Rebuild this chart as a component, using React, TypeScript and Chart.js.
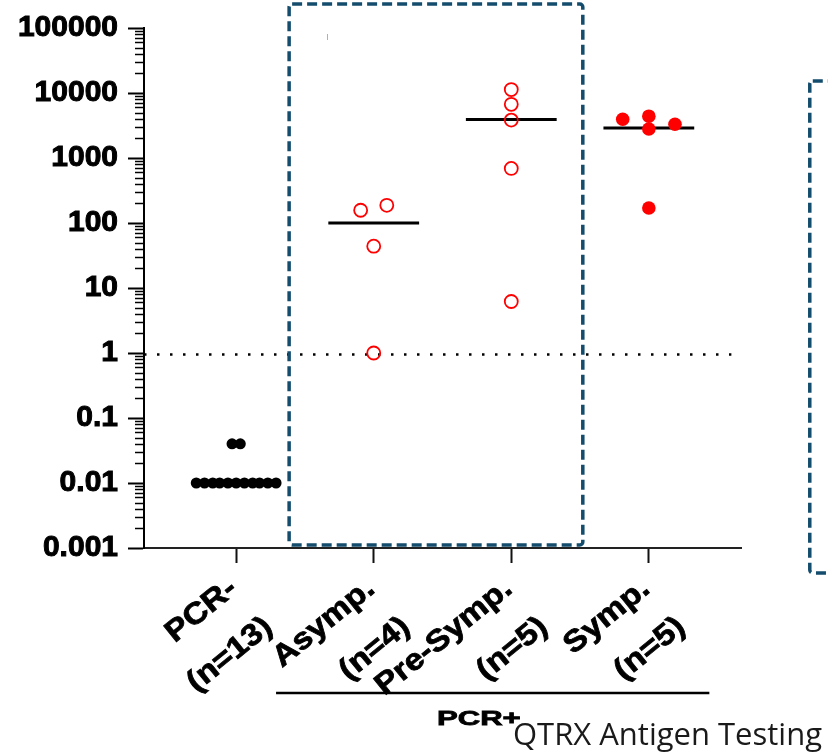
import React, { useEffect, useRef } from 'react';
import { Chart, registerables } from 'chart.js';

Chart.register(...registerables);

// ---- data ----
const categoryLabels: string[][] = [
  ['PCR-', '(n=13)'],
  ['Asymp.', '(n=4)'],
  ['Pre-Symp.', '(n=5)'],
  ['Symp.', '(n=5)'],
];
const categoryPositions = [1, 2, 3, 4];

const yTickValues = [0.001, 0.01, 0.1, 1, 10, 100, 1000, 10000, 100000];
const yTickLabels = ['0.001', '0.01', '0.1', '1', '10', '100', '1000', '10000', '100000'];

const pcrNegValues = [0.01, 0.01, 0.01, 0.01, 0.01, 0.01, 0.01, 0.01, 0.01, 0.01, 0.01, 0.04, 0.04];
const pcrNegJitter = [-0.29, -0.23, -0.17, -0.12, -0.06, 0, 0.06, 0.12, 0.17, 0.23, 0.29, -0.03, 0.03];

const asympValues = [157, 187, 44, 1.0];
const asympJitter = [-0.095, 0.095, 0, 0];

const preSympValues = [11300, 6700, 3830, 690, 6.2];
const preSympJitter = [0, 0, 0, 0, 0];

const sympValues = [3950, 4400, 2800, 3300, 170];
const sympJitter = [-0.19, 0, 0, 0.19, 0];

const medianValues = [100, 3900, 2900];
const medianPositions = [2, 3, 4];
const medianHalfWidth = 0.33;

const thresholdValue = 0.95;
const thresholdRange = [0.33, 4.6];

const groupLabel = 'PCR+';
const titleText = 'QTRX Antigen Testing';

const BOX_COLOR = '#134c6c';
const RED = '#ff0000';
const BOLD_FONT = '"Liberation Sans", Arial, sans-serif';

function pts(center: number, values: number[], jitter: number[]) {
  return values.map((v, i) => ({ x: center + jitter[i], y: v }));
}

const decorations = {
  id: 'decorations',
  afterDraw(chart: any) {
    const ctx = chart.ctx as CanvasRenderingContext2D;
    const xs = chart.scales.x;
    const ys = chart.scales.y;
    const area = chart.chartArea;
    ctx.save();

    // minor ticks on log axis
    ctx.strokeStyle = '#000';
    ctx.lineWidth = 1.5;
    for (let e = -3; e < 5; e++) {
      for (let k = 2; k <= 9; k++) {
        const y = Math.round(ys.getPixelForValue(k * Math.pow(10, e))) + 0.5;
        ctx.beginPath();
        ctx.moveTo(area.left - 9, y);
        ctx.lineTo(area.left, y);
        ctx.stroke();
      }
    }

    // category labels (rotated, two lines)
    ctx.fillStyle = '#000';
    ctx.strokeStyle = '#000';
    ctx.lineWidth = 0.8;
    ctx.font = `bold 30px ${BOLD_FONT}`;
    ctx.textAlign = 'right';
    ctx.textBaseline = 'alphabetic';
    const ang = (-39 * Math.PI) / 180;
    categoryPositions.forEach((p, i) => {
      const px = xs.getPixelForValue(p);
      const [l1, l2] = categoryLabels[i];
      ctx.save();
      ctx.setTransform(
        Math.cos(ang) * 1.12,
        Math.sin(ang) * 1.12,
        -Math.sin(ang),
        Math.cos(ang),
        px + 2.5,
        area.bottom + 43.5
      );
      ctx.fillText(l1, 0, 0);
      ctx.strokeText(l1, 0, 0);
      ctx.fillText(l2, 3, 52);
      ctx.strokeText(l2, 3, 52);
      ctx.restore();
    });

    // dashed boxes
    ctx.strokeStyle = BOX_COLOR;
    ctx.lineWidth = 3.5;
    ctx.setLineDash([10, 5]);
    const b1l = xs.getPixelForValue(1.385);
    const b1r = xs.getPixelForValue(3.52);
    ctx.beginPath();
    (ctx as any).roundRect(b1l, 4, b1r - b1l, area.bottom - 3 - 4, 3);
    ctx.stroke();
    const b2l = xs.getPixelForValue(5.17);
    ctx.beginPath();
    (ctx as any).roundRect(b2l, 81, 80, 573 - 81, 3);
    ctx.stroke();
    ctx.setLineDash([]);

    // tiny grey mark
    ctx.strokeStyle = '#b0b0b0';
    ctx.lineWidth = 1;
    ctx.beginPath();
    ctx.moveTo(327.5, 34);
    ctx.lineTo(327.5, 40);
    ctx.stroke();

    // bracket under PCR+ groups
    ctx.strokeStyle = '#000';
    ctx.lineWidth = 2.5;
    ctx.beginPath();
    ctx.moveTo(xs.getPixelForValue(1.29), 693);
    ctx.lineTo(xs.getPixelForValue(4.44), 693);
    ctx.stroke();

    // PCR+ label
    ctx.fillStyle = '#000';
    ctx.strokeStyle = '#000';
    ctx.lineWidth = 0.8;
    ctx.font = `bold 21px ${BOLD_FONT}`;
    ctx.textAlign = 'left';
    ctx.textBaseline = 'alphabetic';
    ctx.save();
    ctx.translate(437, 725);
    ctx.scale(1.48, 1);
    ctx.fillText(groupLabel, 0, 0);
    ctx.strokeText(groupLabel, 0, 0);
    ctx.restore();

    // title text
    ctx.fillStyle = '#1a1a1a';
    ctx.font = '31px "Open Sans", sans-serif';
    ctx.textAlign = 'right';
    ctx.fillText(titleText, 822, 745);

    ctx.restore();
  },
};

export default function App() {
  const ref = useRef<HTMLCanvasElement | null>(null);

  useEffect(() => {
    if (!ref.current) return;
    const medianDatasets = medianValues.map((m, i) => ({
      type: 'line' as const,
      data: [
        { x: medianPositions[i] - medianHalfWidth, y: m },
        { x: medianPositions[i] + medianHalfWidth, y: m },
      ],
      borderColor: '#000',
      borderWidth: 3,
      pointRadius: 0,
      showLine: true,
      order: 2,
    }));

    const chart = new Chart(ref.current, {
      type: 'scatter',
      data: {
        datasets: [
          {
            data: pts(categoryPositions[0], pcrNegValues, pcrNegJitter),
            backgroundColor: '#000',
            borderColor: '#000',
            pointRadius: 5.5,
            borderWidth: 0,
            order: 0,
          },
          {
            data: pts(categoryPositions[1], asympValues, asympJitter),
            backgroundColor: 'rgba(0,0,0,0)',
            borderColor: RED,
            pointRadius: 6.5,
            borderWidth: 1.8,
            order: 0,
          },
          {
            data: pts(categoryPositions[2], preSympValues, preSympJitter),
            backgroundColor: 'rgba(0,0,0,0)',
            borderColor: RED,
            pointRadius: 6.5,
            borderWidth: 1.8,
            order: 0,
          },
          {
            data: pts(categoryPositions[3], sympValues, sympJitter),
            backgroundColor: RED,
            borderColor: RED,
            pointRadius: 6.8,
            borderWidth: 0,
            order: 0,
          },
          ...medianDatasets,
          {
            type: 'line' as const,
            data: [
              { x: thresholdRange[0], y: thresholdValue },
              { x: thresholdRange[1], y: thresholdValue },
            ],
            borderColor: '#000',
            borderWidth: 2.5,
            borderDash: [2.5, 10.5],
            pointRadius: 0,
            showLine: true,
            order: 3,
          },
        ] as any,
      },
      options: {
        animation: false,
        responsive: false,
        layout: { padding: { top: 23, right: 87, bottom: 0, left: 0 } },
        plugins: {
          legend: { display: false },
          tooltip: { enabled: false },
          title: { display: false },
        },
        scales: {
          x: {
            type: 'linear',
            min: 0.33,
            max: 4.67,
            afterBuildTicks: (scale: any) => {
              scale.ticks = categoryPositions.map((v) => ({ value: v }));
            },
            afterFit: (scale: any) => {
              scale.height = 206;
            },
            grid: {
              drawOnChartArea: false,
              drawTicks: true,
              tickLength: 15,
              tickWidth: 2,
              tickColor: '#111',
            },
            border: { display: true, color: '#222', width: 2 },
            ticks: {
              display: false,
              autoSkip: false,
            },
          },
          y: {
            type: 'logarithmic',
            min: 0.001,
            max: 100000,
            afterBuildTicks: (scale: any) => {
              scale.ticks = yTickValues.map((v) => ({ value: v, major: true }));
            },
            afterFit: (scale: any) => {
              scale.width = 144;
            },
            grid: {
              drawOnChartArea: false,
              drawTicks: true,
              tickLength: 16,
              tickWidth: 2,
              tickColor: '#000',
            },
            border: { display: true, color: '#000', width: 2 },
            ticks: {
              autoSkip: false,
              padding: 10,
              color: '#000',
              textStrokeColor: '#000',
              textStrokeWidth: 1,
              font: { family: BOLD_FONT, size: 30, weight: 'bold' },
              callback: (_v: any, i: number) => yTickLabels[i],
            },
          },
        },
      },
      plugins: [decorations],
    });
    return () => chart.destroy();
  }, []);

  return (
    <div style={{ position: 'absolute', left: 0, top: 0, width: 828, height: 754, background: '#fff' }}>
      <canvas ref={ref} width={828} height={754} style={{ width: 828, height: 754, display: 'block' }} />
    </div>
  );
}
